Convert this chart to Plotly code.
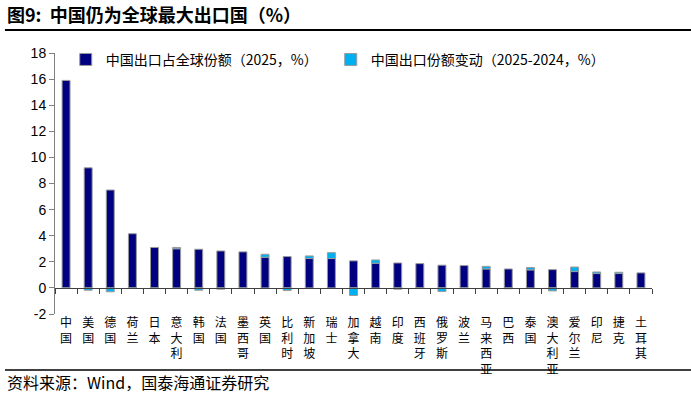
import plotly.graph_objects as go

countries = ["中国", "美国", "德国", "荷兰", "日本", "意大利", "韩国", "法国", "墨西哥",
             "英国", "比利时", "新加坡", "瑞士", "加拿大", "越南", "印度", "西班牙", "俄罗斯",
             "波兰", "马来西亚", "巴西", "泰国", "澳大利亚", "爱尔兰", "印尼", "捷克", "土耳其"]
share_2025 = [15.9, 9.2, 7.5, 4.15, 3.1, 3.0, 2.96, 2.83, 2.76,
              2.35, 2.4, 2.25, 2.25, 2.07, 1.89, 1.91, 1.86, 1.74,
              1.71, 1.45, 1.45, 1.38, 1.4, 1.25, 1.1, 1.1, 1.15]
share_change = [-0.02, -0.18, -0.3, -0.02, -0.04, 0.1, -0.18, -0.1, -0.04,
                0.23, -0.2, 0.2, 0.45, -0.58, 0.25, -0.1, -0.03, -0.28,
                -0.02, 0.2, -0.06, 0.18, -0.23, 0.35, 0.12, 0.1, -0.02]
series_names = ["中国出口占全球份额（2025，%）", "中国出口份额变动（2025-2024，%）"]
y_ticks = list(range(-2, 19, 2))
y_tick_labels = [str(v) for v in y_ticks]
y_range = [-2, 18]

title_text = "<b>图9:  中国仍为全球最大出口国（%）</b>"
source_text = "资料来源：Wind，国泰海通证券研究"

NAVY = "#000080"
CYAN = "#00B0F0"
EDGE = "#9a9a9a"
CJK = "Noto Sans CJK SC"
LAT = "Liberation Sans"

fig = go.Figure()
fig.add_trace(go.Bar(x=countries, y=share_2025, name=series_names[0],
                     marker=dict(color=NAVY, line=dict(color=EDGE, width=1)),
                     width=0.36))
fig.add_trace(go.Bar(x=countries, y=share_change, name=series_names[1],
                     marker=dict(color=CYAN, line=dict(color=EDGE, width=1)),
                     width=0.36))
# invisible trace carrying the category labels on the bottom axis
fig.add_trace(go.Scatter(x=countries, y=[0] * len(countries), xaxis="x2",
                         mode="markers", marker=dict(opacity=0), showlegend=False,
                         hoverinfo="skip"))

zero_pos = (0 - y_range[0]) / (y_range[1] - y_range[0])

fig.update_layout(
    width=691, height=395,
    margin=dict(l=55, r=39, t=53, b=81),
    paper_bgcolor="white", plot_bgcolor="white",
    barmode="relative",
    showlegend=True,
    legend=dict(orientation="h", x=0.018, y=1.035, xanchor="left", yanchor="top",
                font=dict(family=CJK, size=14, color="black"),
                entrywidth=220, entrywidthmode="pixels",
                bgcolor="rgba(0,0,0,0)", itemclick=False),
    xaxis=dict(type="category", anchor="free", position=zero_pos,
               showline=True, linecolor="#404040", linewidth=1,
               ticks="outside", tickson="boundaries", ticklen=5, tickcolor="#404040",
               showticklabels=False, showgrid=False, zeroline=False,
               range=[-0.5, len(countries) - 0.5]),
    xaxis2=dict(type="category", overlaying="x", anchor="y", side="bottom",
                showline=False, ticks="", showgrid=False, zeroline=False,
                tickvals=countries, ticktext=["<br>".join(c) for c in countries],
                tickangle=0,
                tickfont=dict(family=CJK, size=12, color="black"),
                range=[-0.5, len(countries) - 0.5]),
    yaxis=dict(range=y_range, tickvals=y_ticks, ticktext=y_tick_labels,
               showgrid=False, zeroline=False,
               showline=True, linecolor="#808080", linewidth=1,
               ticks="outside", ticklen=5, tickcolor="#808080",
               tickfont=dict(family=LAT, size=14, color="black")),
)

fig.add_annotation(text=title_text, xref="paper", yref="paper",
                   x=-0.0838, y=1.149, xanchor="left", yanchor="middle",
                   showarrow=False, font=dict(family=CJK, size=18, color="black"))
fig.add_annotation(text=source_text, xref="paper", yref="paper",
                   x=-0.0838, y=-0.262, xanchor="left", yanchor="middle",
                   showarrow=False, font=dict(family=CJK, size=16, color="black"))
fig.add_shape(type="line", xref="paper", yref="paper", x0=-0.0838, x1=1.07,
              y0=1.088, y1=1.088, line=dict(color="black", width=2))
fig.add_shape(type="line", xref="paper", yref="paper", x0=-0.0838, x1=1.07,
              y0=-0.2146, y1=-0.2146, line=dict(color="black", width=1.5))

fig.write_html("out.html")
